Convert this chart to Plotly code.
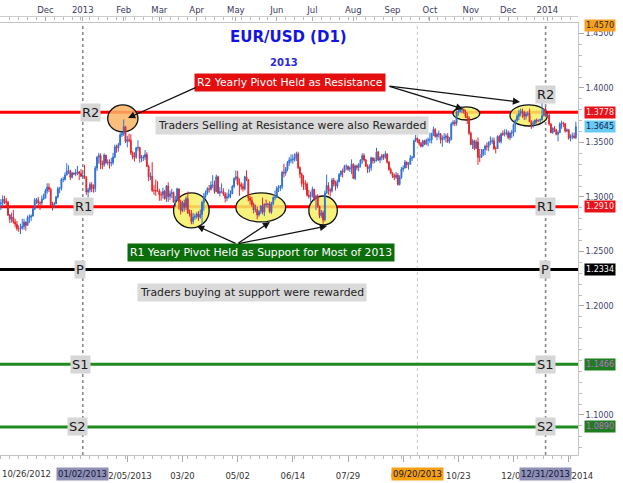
import pandas as pd
import plotly.graph_objects as go

# ---------------- DATA (EUR/USD daily, price x 10000) ----------------
first_open_pips = 12915
close_pips = [
    # Oct 2012
    12940, 12945, 12980, 12960,
    # Nov 2012
    12950, 12835, 12795, 12815, 12770, 12750, 12710, 12710, 12715, 12730, 12770,
    12740, 12810, 12815, 12825, 12890, 12975, 12975, 12945, 12945, 12980, 12990,
    # Dec 2012
    13055, 13090, 13070, 12925, 12925, 12940, 13000, 13075, 13080, 13160, 13160,
    13200, 13240, 13240, 13180, 13220, 13210, 13220, 13230, 13215, 13190,
    # Jan 2013
    13195, 13180, 13045, 13065, 13115, 13080, 13075, 13265, 13365, 13380, 13305,
    13295, 13385, 13315, 13320, 13310, 13315, 13365, 13460, 13450, 13480, 13570, 13580,
    # Feb 2013
    13645, 13510, 13525, 13520, 13405, 13365, 13365, 13450, 13455, 13355, 13360,
    13365, 13390, 13280, 13185, 13190, 13060, 13060, 13055, 13055,
    # Mar 2013
    13020, 13020, 13050, 12985, 13100, 13005, 13030, 13040, 12955, 12970, 13075,
    12955, 12875, 12945, 12905, 12985, 12855, 12845, 12775, 12815, 12820,
    # Apr 2013
    12845, 12815, 12840, 12950, 13005, 13040, 13075, 13070, 13110, 13110, 13050,
    13185, 13035, 13050, 13050, 13025, 12990, 13000, 13025, 13030, 13095, 13170,
    # May 2013
    13185, 13120, 13115, 13095, 13075, 13185, 13160, 12990, 12970, 12930, 12880,
    12885, 12835, 12865, 12915, 12860, 12935, 12930, 12935, 12865, 12940, 12995, 12995,
    # Jun 2013
    13080, 13085, 13095, 13225, 13220, 13255, 13315, 13340, 13340, 13345, 13365,
    13395, 13270, 13210, 13125, 13120, 13120, 13015, 13005, 13010,
    # Jul 2013
    13070, 12985, 13010, 12915, 12830, 12855, 12790, 13035, 13105, 13065, 13055,
    13155, 13120, 13100, 13140, 13205, 13235, 13230, 13280, 13280, 13255, 13265, 13300,
    # Aug 2013
    13170, 13285, 13270, 13300, 13340, 13380, 13340, 13285, 13260, 13270, 13360,
    13330, 13335, 13415, 13340, 13360, 13380, 13365, 13395, 13320, 13255, 13220,
    # Sep 2013
    13195, 13180, 13200, 13115, 13180, 13255, 13265, 13320, 13295, 13300, 13355,
    13365, 13515, 13540, 13525, 13490, 13465, 13515, 13485, 13520, 13525,
    # Oct 2013
    13525, 13580, 13620, 13555, 13575, 13580, 13525, 13540, 13545, 13560, 13510,
    13525, 13670, 13685, 13675, 13780, 13785, 13800, 13805, 13780, 13740, 13725, 13585,
    # Nov 2013
    13480, 13515, 13445, 13505, 13365, 13365, 13395, 13435, 13465, 13460, 13500,
    13510, 13515, 13445, 13445, 13555, 13510, 13580, 13575, 13590, 13590,
    # Dec 2013
    13545, 13585, 13590, 13665, 13705, 13740, 13765, 13785, 13775, 13740, 13760,
    13765, 13690, 13665, 13675, 13705, 13695, 13705, 13710, 13745, 13805, 13745,
    # Jan 2014
    13750, 13670, 13590, 13630, 13615, 13575, 13590, 13670, 13675, 13670, 13605,
    13615, 13540, 13560, 13560, 13545, 13645,
]
high_pips = [
    12985, 12980, 13015, 13010,
    12990, 12965, 12845, 12855, 12880, 12800, 12780, 12740, 12755, 12800, 12800,
    12775, 12830, 12840, 12840, 12900, 12990, 12990, 13000, 12960, 13015, 13030,
    13075, 13125, 13125, 13085, 12955, 12955, 13010, 13095, 13090, 13175, 13185,
    13225, 13310, 13290, 13250, 13230, 13225, 13255, 13285, 13240, 13255,
    13225, 13295, 13190, 13085, 13135, 13135, 13115, 13285, 13375, 13405, 13400,
    13335, 13400, 13385, 13345, 13345, 13360, 13405, 13480, 13480, 13495, 13590, 13595,
    13711, 13650, 13560, 13580, 13575, 13420, 13410, 13460, 13520, 13460, 13385,
    13385, 13430, 13410, 13295, 13225, 13320, 13110, 13160, 13145,
    13075, 13050, 13085, 13065, 13110, 13135, 13060, 13075, 13050, 13010, 13085,
    12990, 12975, 12965, 12975, 13005, 13050, 12885, 12880, 12855, 12845,
    12860, 12870, 12885, 12965, 13035, 13060, 13090, 13110, 13145, 13200, 13150,
    13205, 13195, 13090, 13125, 13080, 13045, 13040, 13070, 13060, 13110, 13180,
    13243, 13240, 13170, 13135, 13125, 13195, 13245, 13160, 13010, 13000, 12950,
    12930, 12910, 12880, 12925, 12995, 12940, 12975, 12945, 12960, 12955, 13005, 13060,
    13100, 13110, 13110, 13240, 13305, 13275, 13330, 13365, 13390, 13390, 13400,
    13415, 13415, 13280, 13225, 13200, 13155, 13135, 13065, 13050,
    13095, 13075, 13020, 13025, 12920, 12880, 12875, 13060, 13205, 13135, 13080,
    13175, 13175, 13150, 13160, 13220, 13245, 13260, 13295, 13300, 13290, 13280, 13345,
    13310, 13295, 13295, 13310, 13345, 13400, 13400, 13350, 13300, 13300, 13370,
    13360, 13360, 13452, 13420, 13375, 13395, 13395, 13420, 13400, 13330, 13270,
    13225, 13215, 13230, 13220, 13200, 13275, 13290, 13340, 13325, 13320, 13385,
    13375, 13525, 13570, 13545, 13530, 13505, 13525, 13525, 13535, 13545,
    13590, 13590, 13645, 13630, 13590, 13610, 13585, 13565, 13585, 13580, 13585,
    13550, 13685, 13705, 13705, 13795, 13815, 13830, 13830, 13810, 13800, 13775, 13740,
    13600, 13530, 13525, 13525, 13545, 13440, 13440, 13440, 13480, 13500, 13510,
    13555, 13545, 13545, 13465, 13565, 13570, 13590, 13610, 13620, 13620,
    13610, 13600, 13615, 13675, 13710, 13760, 13800, 13810, 13810, 13790, 13780,
    13785, 13810, 13705, 13700, 13710, 13720, 13710, 13720, 13893, 13810, 13830,
    13765, 13775, 13675, 13640, 13650, 13625, 13610, 13685, 13700, 13690, 13680,
    13630, 13625, 13575, 13590, 13590, 13690,
]
low_pips = [
    12885, 12880, 12915, 12935,
    12920, 12825, 12760, 12765, 12755, 12720, 12690, 12680, 12660, 12700, 12700,
    12690, 12735, 12760, 12780, 12820, 12880, 12935, 12910, 12880, 12925, 12975,
    12985, 13030, 13045, 12920, 12875, 12900, 12935, 12985, 13035, 13060, 13135,
    13150, 13200, 13210, 13155, 13170, 13200, 13190, 13200, 13155, 13185,
    13180, 13165, 13020, 12995, 13040, 13045, 13040, 13045, 13240, 13305, 13255,
    13255, 13275, 13300, 13290, 13260, 13280, 13295, 13355, 13405, 13415, 13470, 13550,
    13560, 13495, 13455, 13500, 13385, 13345, 13325, 13350, 13425, 13315, 13320,
    13330, 13340, 13275, 13145, 13155, 13045, 13020, 13010, 13050,
    12965, 12965, 12985, 12975, 12955, 12955, 12970, 12990, 12945, 12910, 12965,
    12885, 12840, 12860, 12865, 12880, 12845, 12820, 12750, 12750, 12790,
    12800, 12780, 12800, 12745, 12875, 12985, 13020, 13040, 13060, 13080, 13030,
    13045, 13030, 13005, 13035, 13010, 12950, 12960, 12985, 12990, 13025, 13080,
    13150, 13105, 13010, 13065, 13050, 13060, 13145, 12960, 12930, 12910, 12850,
    12860, 12795, 12820, 12845, 12840, 12825, 12905, 12900, 12850, 12845, 12925, 12970,
    12990, 13045, 13055, 13070, 13180, 13195, 13235, 13285, 13310, 13305, 13325,
    13330, 13255, 13175, 13095, 13065, 13065, 13005, 12985, 12955,
    12995, 12965, 12880, 12900, 12805, 12810, 12755, 12775, 13030, 13020, 13005,
    13040, 13095, 13060, 13080, 13135, 13185, 13180, 13220, 13245, 13240, 13230, 13210,
    13165, 13155, 13245, 13235, 13270, 13305, 13325, 13275, 13220, 13225, 13240,
    13305, 13310, 13325, 13330, 13310, 13335, 13340, 13350, 13305, 13240, 13210,
    13175, 13155, 13165, 13105, 13105, 13165, 13230, 13260, 13265, 13250, 13320,
    13330, 13355, 13505, 13495, 13470, 13455, 13455, 13475, 13475, 13465,
    13495, 13490, 13560, 13545, 13520, 13545, 13490, 13460, 13520, 13500, 13495,
    13490, 13525, 13655, 13650, 13655, 13745, 13775, 13770, 13765, 13725, 13670, 13570,
    13475, 13440, 13430, 13440, 13295, 13320, 13360, 13375, 13385, 13425, 13420,
    13475, 13485, 13430, 13400, 13455, 13495, 13490, 13560, 13555, 13565,
    13530, 13520, 13540, 13555, 13595, 13690, 13705, 13740, 13725, 13705, 13710,
    13740, 13690, 13625, 13635, 13665, 13675, 13690, 13680, 13700, 13740, 13735,
    13735, 13655, 13585, 13580, 13595, 13565, 13510, 13585, 13625, 13640, 13590,
    13595, 13525, 13510, 13530, 13535, 13530,
]

pivot_names = ["R2", "R1", "P", "S1", "S2"]
pivot_values = [1.3778, 1.2910, 1.2334, 1.1466, 1.0890]
pivot_colors = ["#ff0000", "#ff0000", "#000000", "#1f8a1f", "#1f8a1f"]

month_ticks = ["2012-12-03", "2013-01-01", "2013-02-01", "2013-03-01", "2013-04-01",
               "2013-05-01", "2013-06-03", "2013-07-01", "2013-08-01", "2013-09-02",
               "2013-10-01", "2013-11-01", "2013-12-02", "2014-01-01"]
month_labels = ["Dec", "2013", "Feb", "Mar", "Apr", "May", "Jun", "Jul", "Aug",
                "Sep", "Oct", "Nov", "Dec", "2014"]

bottom_ticks = ["2013-02-05", "2013-03-20", "2013-05-02", "2013-06-14", "2013-07-29",
                "2013-09-10", "2013-10-23", "2013-12-05", "2014-01-17"]
bottom_labels = ["02/05/2013", "03/20", "05/02", "06/14", "07/29", "09/10",
                 "10/23", "12/05", "01/17/2014"]

price_ticks = [1.10, 1.20, 1.25, 1.30, 1.35, 1.40, 1.45]

tag_values = [1.4570, 1.3778, 1.3645, 1.2910, 1.2334, 1.1466, 1.0890]
tag_bg = ["#f7a020", "#e8121a", "#66ccf5", "#e8121a", "#000000", "#1e7d1e", "#1e7d1e"]
tag_fg = ["#2a2a2a", "#ffe8e8", "#1a1a50", "#ffe8e8", "#ffffff", "#c070d0", "#c070d0"]

# ---------------- derived series ----------------
dates = pd.bdate_range("2012-10-26", "2014-01-23")
assert len(dates) == len(close_pips) == len(high_pips) == len(low_pips), (
    len(dates), len(close_pips), len(high_pips), len(low_pips))
close = [v / 10000 for v in close_pips]
open_ = [first_open_pips / 10000] + close[:-1]
high = [max(h / 10000, o, c) for h, o, c in zip(high_pips, open_, close)]
low = [min(l / 10000, o, c) for l, o, c in zip(low_pips, open_, close)]

# ---------------- geometry ----------------
W, H = 623, 483
M_L, M_R, M_T, M_B = 0, 45, 2, 28
PLOT_W = W - M_L - M_R          # 578
PAPER_H = H - M_T - M_B         # 453
PLOT_TOP_PX, PLOT_BOT_PX, TOPAX_PX = 23, 455, 16


def px(xp):
    return xp / PLOT_W


def py(yp):
    return (PLOT_BOT_PX - yp) / PAPER_H


Y_DOM_TOP = py(PLOT_TOP_PX)
X_RANGE = ["2012-10-26 12:00", "2014-01-24 05:00"]
Y_RANGE = [1.0633, 1.4596]
FONT = "DejaVu Sans"

fig = go.Figure()

fig.add_trace(go.Candlestick(
    x=dates, open=open_, high=high, low=low, close=close,
    increasing=dict(line=dict(color="#2f6fd6", width=1), fillcolor="#2f6fd6"),
    decreasing=dict(line=dict(color="#e3262b", width=1), fillcolor="#e3262b"),
    whiskerwidth=0, showlegend=False, hoverinfo="skip",
))

# month markers on the top axis
fig.add_trace(go.Scatter(
    x=month_ticks, y=[1.4628] * len(month_ticks), xaxis="x2", yaxis="y",
    mode="markers", marker=dict(symbol="triangle-down", size=7, color="#f5a02a"),
    cliponaxis=False, showlegend=False, hoverinfo="skip",
))

shapes = []
# highlight ellipses
ellipses = [
    ("2013-01-21", "2013-02-13", 1.3596, 1.3844, "rgba(248,180,100,0.85)"),
    ("2013-03-13", "2013-04-10", 1.2716, 1.3037, "rgba(245,240,100,0.85)"),
    ("2013-05-01", "2013-06-10", 1.2771, 1.3037, "rgba(245,240,100,0.85)"),
    ("2013-06-27", "2013-07-19", 1.2743, 1.3009, "rgba(245,240,100,0.85)"),
    ("2013-10-18", "2013-11-08", 1.3706, 1.3826, "rgba(245,240,100,0.85)"),
    ("2013-12-03", "2014-01-01", 1.3651, 1.3844, "rgba(245,240,100,0.85)"),
]
for x0, x1, y0, y1, col in ellipses:
    shapes.append(dict(type="circle", xref="x", yref="y", x0=x0, x1=x1, y0=y0, y1=y1,
                       fillcolor=col, line=dict(color="#111111", width=1.3), layer="below"))

# vertical dotted markers
for d, col, w in [("2013-01-01", "#8a8a8a", 1.6), ("2013-12-31", "#8a8a8a", 1.6),
                  ("2013-09-20", "#d0d0d0", 1.2)]:
    shapes.append(dict(type="line", xref="x", yref="paper", x0=d, x1=d, y0=0, y1=Y_DOM_TOP,
                       line=dict(color=col, width=w, dash="dot"), layer="below"))

# pivot lines
for v, c in zip(pivot_values, pivot_colors):
    shapes.append(dict(type="line", xref="paper", yref="y", x0=0, x1=1, y0=v, y1=v,
                       line=dict(color=c, width=3), layer="below"))

annotations = []


def box(text, xp, yp, bg, fg, size=10.8, bold=False, xanchor="center"):
    annotations.append(dict(
        text=("<b>%s</b>" % text) if bold else text, xref="paper", yref="paper",
        x=xp, y=yp, xanchor=xanchor, yanchor="middle", showarrow=False,
        bgcolor=bg, borderpad=2, font=dict(family=FONT, size=size, color=fg)))


# titles
box("EUR/USD (D1)", px(288), py(37), None, "#1414e0", size=15, bold=True)
box("2013", px(284), py(62), None, "#2a2ad8", size=10, bold=True)
# comment boxes
box("R2 Yearly Pivot Held as Resistance", px(290), py(82.5), "#e40e0e", "#ffffff")
box("Traders Selling at Resistance were also Rewarded", px(291.5), py(125.5), "#dadada", "#222222")
box("R1 Yearly Pivot Held as Support for Most of 2013", px(260.5), py(252.5), "#0b6e0b", "#ffffff")
box("Traders buying at support were rewarded", px(252), py(292.5), "#dadada", "#222222")

# arrows: head (x, y) in px, tail (x, y) in px
arrows = [((128, 118), (197, 87)), ((463, 109), (388, 86)), ((520, 102), (388, 86)),
          ((197, 226), (237, 244)), ((270, 222), (237, 244)), ((327, 226), (237, 244))]
for (hx, hy), (tx, ty) in arrows:
    annotations.append(dict(x=px(hx), y=py(hy), xref="paper", yref="paper", text="",
                            showarrow=True, ax=tx - hx, ay=ty - hy, arrowhead=2,
                            arrowsize=1.1, arrowwidth=1.3, arrowcolor="#111111"))

# pivot name labels (left & right)
left_x = {"R2": 90, "R1": 83.5, "P": 80, "S1": 80, "S2": 77.5}
right_shift = {"R2": 18, "R1": 0, "P": 0, "S1": 0, "S2": 0}
for name, v in zip(pivot_names, pivot_values):
    for xpx, ys in [(left_x[name], 0), (545, right_shift[name])]:
        annotations.append(dict(text=name, xref="paper", yref="y", x=px(xpx), y=v,
                                xanchor="center", yanchor="middle",
                                yshift=ys, showarrow=False, bgcolor="#d6d6d6", borderpad=1,
                                font=dict(family=FONT, size=13, color="#1a1a1a")))

# right-axis price tags
for v, bg, fg in zip(tag_values, tag_bg, tag_fg):
    annotations.append(dict(text="%.4f" % v, xref="paper", yref="y", x=1, y=v,
                            xanchor="left", xshift=6, yanchor="middle", showarrow=False,
                            bgcolor=bg, borderpad=1,
                            font=dict(family=FONT, size=8, color=fg)))

# bottom date boxes
annotations.append(dict(text="10/26/2012", xref="paper", yref="paper", x=0, y=py(474),
                        xanchor="left", yanchor="middle", showarrow=False,
                        font=dict(family=FONT, size=8.5, color="#333333")))
for d, txt, bg in [("2013-01-01", "01/02/2013", "#8d90b4"),
                   ("2013-09-20", "09/20/2013", "#f5a010"),
                   ("2013-12-31", "12/31/2013", "#8d90b4")]:
    annotations.append(dict(text=txt, xref="x", yref="paper", x=d, y=py(474),
                            xanchor="center", yanchor="middle", showarrow=False,
                            bgcolor=bg, borderpad=1,
                            font=dict(family=FONT, size=8.5, color="#15153a")))

fig.update_layout(
    width=W, height=H,
    margin=dict(l=M_L, r=M_R, t=M_T, b=M_B, pad=0),
    paper_bgcolor="white", plot_bgcolor="white",
    font=dict(family=FONT, size=8.5, color="#333333"),
    showlegend=False,
    shapes=shapes, annotations=annotations,
    xaxis=dict(
        type="date", range=X_RANGE, rangeslider=dict(visible=False),
        rangebreaks=[dict(bounds=["sat", "mon"])],
        tickmode="array", tickvals=bottom_ticks, ticktext=bottom_labels,
        ticks="outside", ticklen=6, tickcolor="#aaaaaa", ticklabelstandoff=7,
        minor=dict(ticks="outside", ticklen=3, tickcolor="#bbbbbb",
                   dtick=7 * 86400000, tick0="2012-10-29"),
        showgrid=False, zeroline=False, showline=True, linecolor="#c4c4c4",
        mirror=True, tickfont=dict(family=FONT, size=8.5, color="#333333"),
    ),
    xaxis2=dict(
        type="date", range=X_RANGE, overlaying="x", side="top", anchor="free",
        position=py(TOPAX_PX), rangebreaks=[dict(bounds=["sat", "mon"])],
        tickmode="array", tickvals=month_ticks, ticktext=month_labels,
        ticks="inside", ticklen=4, tickcolor="#aaaaaa",
        minor=dict(ticks="inside", ticklen=3, tickcolor="#bbbbbb",
                   dtick=7 * 86400000, tick0="2012-10-29"),
        showgrid=False, zeroline=False, showline=True, linecolor="#cccccc",
        tickfont=dict(family=FONT, size=8.5, color="#3a3a5a"),
    ),
    yaxis=dict(
        range=Y_RANGE, domain=[0, Y_DOM_TOP], side="right",
        tickmode="array", tickvals=price_ticks, tickformat=".4f",
        ticks="outside", ticklen=5, tickcolor="#aaaaaa",
        minor=dict(ticks="outside", ticklen=3, tickcolor="#bbbbbb", dtick=0.01),
        showgrid=False, zeroline=False, showline=True, linecolor="#c4c4c4",
        mirror=True, tickfont=dict(family=FONT, size=8, color="#40406a"),
    ),
)

fig.write_html(
    "out.html",
    config={"displayModeBar": False},
    post_script="document.body.style.margin='0';document.body.style.padding='0';"
                "document.body.style.overflow='hidden';",
)
